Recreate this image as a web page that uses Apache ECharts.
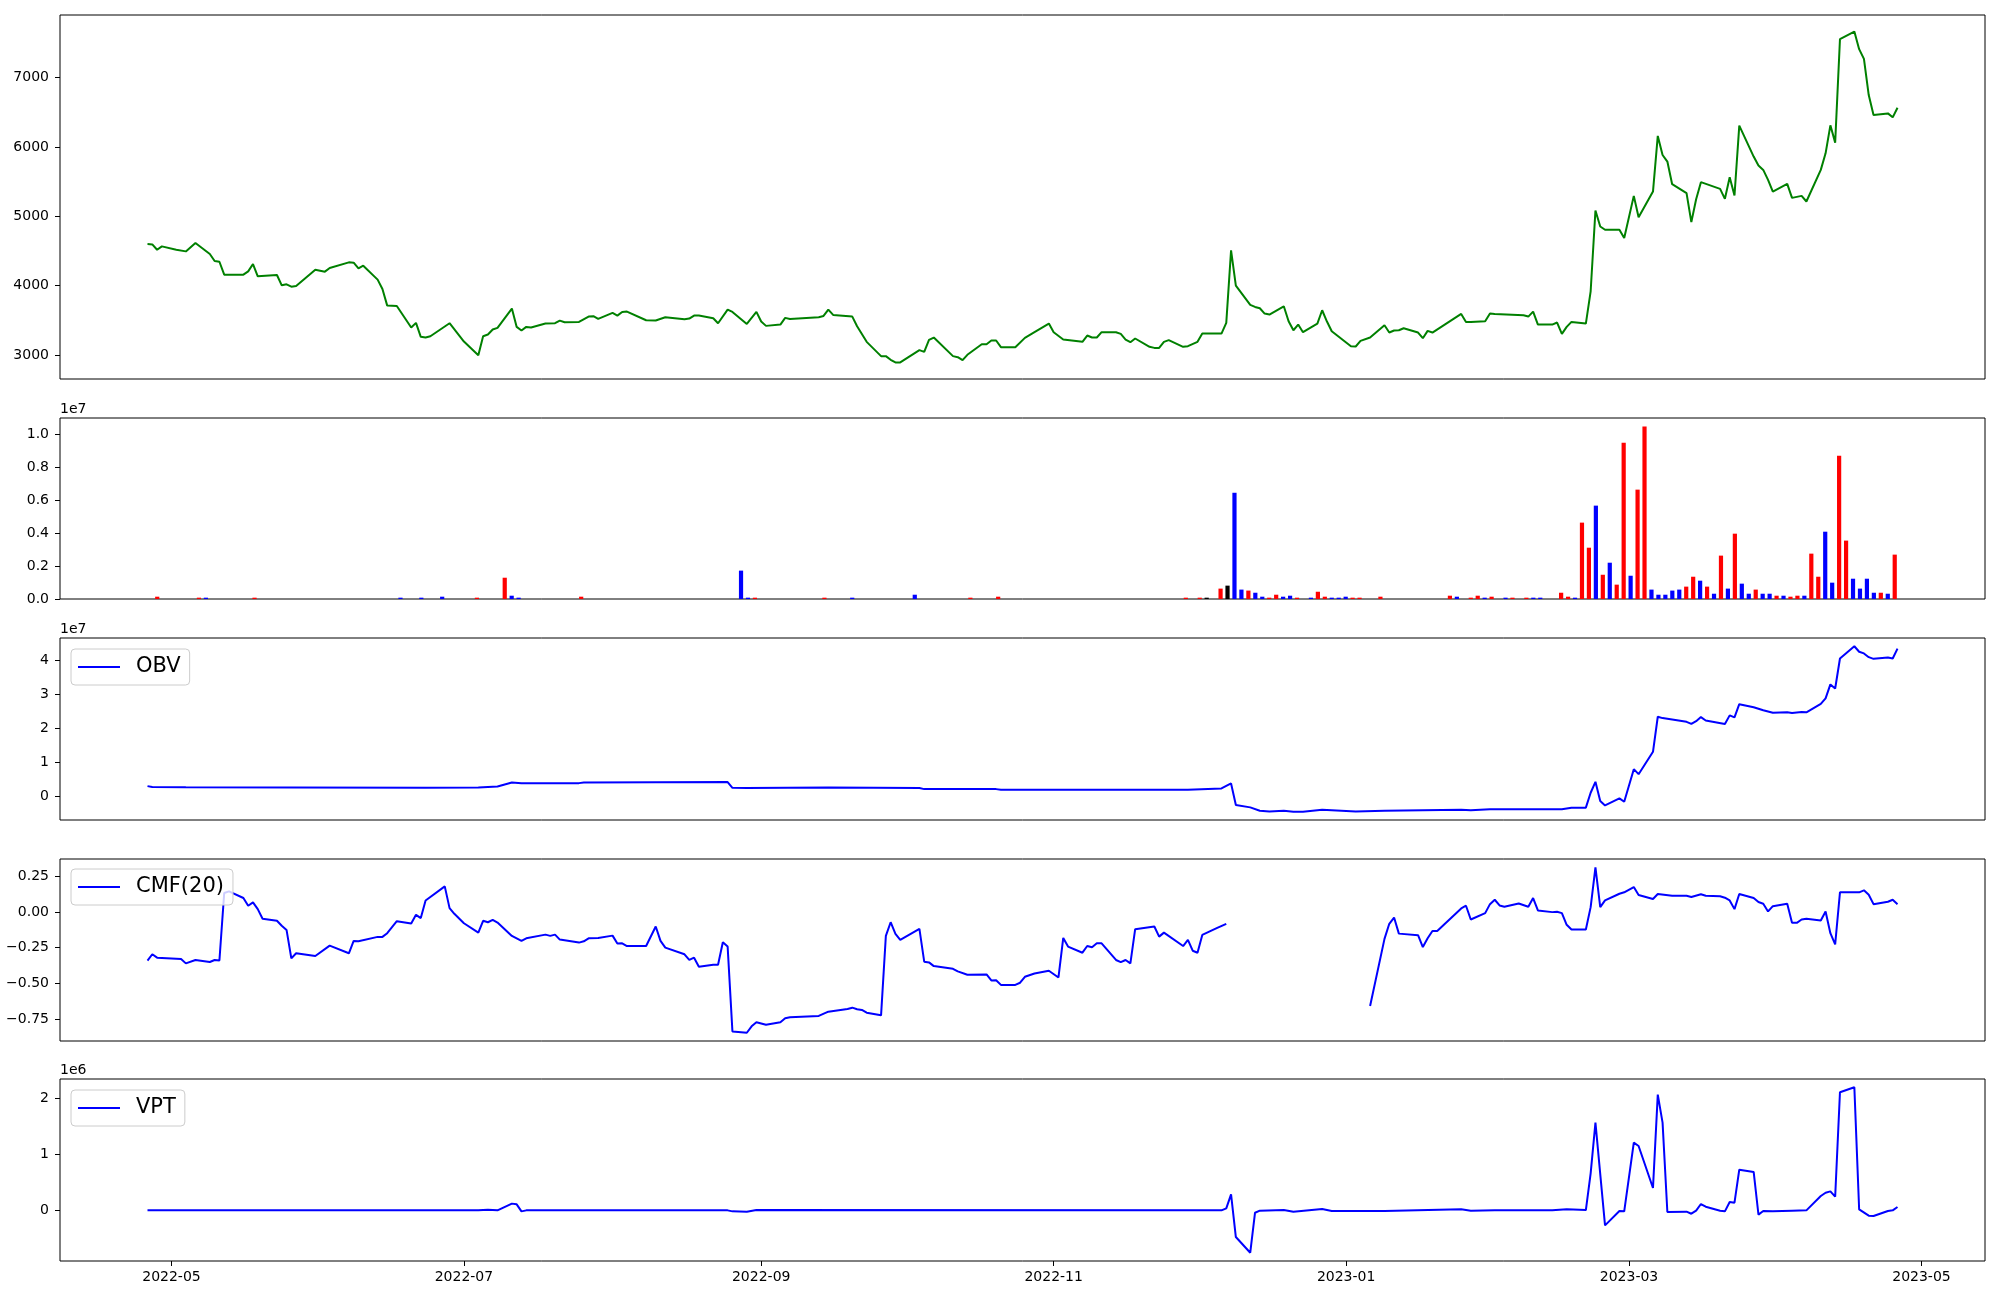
<!DOCTYPE html>
<html><head><meta charset="utf-8">
<script src="https://cdn.jsdelivr.net/npm/echarts@6/dist/echarts.min.js"></script>
<style>html,body{margin:0;padding:0;background:#fff}#chart{width:2000px;height:1300px}</style>
</head><body><div id="chart"></div>
<script>
// ---------------- DATA ----------------
const price = [
['2022-04-26',4600],['2022-04-27',4596],['2022-04-28',4519],['2022-04-29',4567],['2022-05-02',4519],['2022-05-04',4495],['2022-05-06',4615],['2022-05-09',4457],['2022-05-10',4356],['2022-05-11',4346],['2022-05-12',4160],['2022-05-16',4160],['2022-05-17',4207],['2022-05-18',4313],['2022-05-19',4136],['2022-05-23',4155],['2022-05-24',4006],['2022-05-25',4021],['2022-05-26',3987],['2022-05-27',3997],['2022-05-31',4231],['2022-06-02',4203],['2022-06-03',4255],['2022-06-07',4337],['2022-06-08',4332],['2022-06-09',4251],['2022-06-10',4289],['2022-06-13',4088],['2022-06-14',3953],['2022-06-15',3714],['2022-06-17',3709],['2022-06-20',3398],['2022-06-21',3465],['2022-06-22',3264],['2022-06-23',3254],['2022-06-24',3273],['2022-06-28',3460],['2022-07-01',3196],['2022-07-04',3000],['2022-07-05',3273],['2022-07-06',3297],['2022-07-07',3369],['2022-07-08',3393],['2022-07-11',3671],['2022-07-12',3407],['2022-07-13',3355],['2022-07-14',3407],['2022-07-15',3398],['2022-07-18',3455],['2022-07-20',3460],['2022-07-21',3498],['2022-07-22',3474],['2022-07-25',3479],['2022-07-27',3556],['2022-07-28',3561],['2022-07-29',3522],['2022-08-01',3609],['2022-08-02',3570],['2022-08-03',3623],['2022-08-04',3628],['2022-08-08',3503],['2022-08-10',3500],['2022-08-12',3546],['2022-08-16',3517],['2022-08-17',3527],['2022-08-18',3570],['2022-08-19',3570],['2022-08-22',3532],['2022-08-23',3460],['2022-08-25',3656],['2022-08-26',3623],['2022-08-29',3450],['2022-08-31',3623],['2022-09-01',3484],['2022-09-02',3422],['2022-09-05',3441],['2022-09-06',3537],['2022-09-07',3522],['2022-09-13',3546],['2022-09-14',3565],['2022-09-15',3656],['2022-09-16',3580],['2022-09-20',3556],['2022-09-21',3417],['2022-09-23',3192],['2022-09-26',2986],['2022-09-27',2986],['2022-09-28',2933],['2022-09-29',2895],['2022-09-30',2895],['2022-10-04',3072],['2022-10-05',3048],['2022-10-06',3220],['2022-10-07',3254],['2022-10-11',2986],['2022-10-12',2971],['2022-10-13',2928],['2022-10-14',3005],['2022-10-17',3158],['2022-10-18',3158],['2022-10-19',3211],['2022-10-20',3211],['2022-10-21',3115],['2022-10-24',3115],['2022-10-26',3249],['2022-10-28',3331],['2022-10-31',3455],['2022-11-01',3331],['2022-11-03',3225],['2022-11-07',3192],['2022-11-08',3283],['2022-11-09',3254],['2022-11-10',3254],['2022-11-11',3331],['2022-11-14',3331],['2022-11-15',3307],['2022-11-16',3225],['2022-11-17',3187],['2022-11-18',3240],['2022-11-21',3120],['2022-11-22',3105],['2022-11-23',3105],['2022-11-24',3192],['2022-11-25',3216],['2022-11-28',3120],['2022-11-29',3129],['2022-12-01',3192],['2022-12-02',3311],['2022-12-06',3311],['2022-12-07',3465],['2022-12-08',4509],['2022-12-09',4001],['2022-12-12',3724],['2022-12-13',3695],['2022-12-14',3676],['2022-12-15',3599],['2022-12-16',3585],['2022-12-19',3704],['2022-12-20',3489],['2022-12-21',3359],['2022-12-22',3441],['2022-12-23',3331],['2022-12-26',3455],['2022-12-27',3647],['2022-12-28',3484],['2022-12-29',3345],['2023-01-02',3129],['2023-01-03',3125],['2023-01-04',3206],['2023-01-06',3254],['2023-01-09',3431],['2023-01-10',3326],['2023-01-11',3355],['2023-01-12',3359],['2023-01-13',3388],['2023-01-16',3326],['2023-01-17',3244],['2023-01-18',3350],['2023-01-19',3326],['2023-01-25',3594],['2023-01-26',3479],['2023-01-27',3479],['2023-01-30',3489],['2023-01-31',3599],['2023-02-01',3594],['2023-02-07',3575],['2023-02-08',3556],['2023-02-09',3628],['2023-02-10',3441],['2023-02-13',3441],['2023-02-14',3470],['2023-02-15',3307],['2023-02-16',3407],['2023-02-17',3479],['2023-02-20',3455],['2023-02-21',3920],['2023-02-22',5084],['2023-02-23',4854],['2023-02-24',4806],['2023-02-27',4806],['2023-02-28',4687],['2023-03-02',5295],['2023-03-03',4988],['2023-03-06',5357],['2023-03-07',6158],['2023-03-08',5884],['2023-03-09',5789],['2023-03-10',5463],['2023-03-13',5334],['2023-03-14',4917],['2023-03-15',5247],['2023-03-16',5492],['2023-03-20',5396],['2023-03-21',5252],['2023-03-22',5564],['2023-03-23',5300],['2023-03-24',6306],['2023-03-27',5861],['2023-03-28',5731],['2023-03-29',5669],['2023-03-30',5525],['2023-03-31',5357],['2023-04-03',5468],['2023-04-04',5266],['2023-04-06',5295],['2023-04-07',5214],['2023-04-10',5669],['2023-04-11',5908],['2023-04-12',6311],['2023-04-13',6062],['2023-04-14',7552],['2023-04-17',7662],['2023-04-18',7408],['2023-04-19',7269],['2023-04-20',6747],['2023-04-21',6459],['2023-04-24',6483],['2023-04-25',6426],['2023-04-26',6565]
];

// volume bars: [trading-day index, volume, direction (1 up, -1 down, 0 flat)]
const tradingDays = 252;
const volume = [
[1,1.4e5,1],[7,0.8e5,1],[8,0.8e5,-1],[15,0.8e5,1],[36,0.8e5,-1],[39,0.8e5,-1],[42,1.4e5,-1],[47,0.8e5,1],[51,1.29e6,1],[52,2e5,-1],[53,0.8e5,-1],[62,1.4e5,1],
[85,1.72e6,-1],[86,0.8e5,-1],[87,0.8e5,1],[97,0.8e5,1],[101,0.8e5,-1],[110,2.6e5,-1],[118,0.8e5,1],[122,1.4e5,1],[149,0.8e5,1],[151,0.8e5,1],[152,0.8e5,0],
[154,6.3e5,1],[155,8.1e5,0],[156,6.44e6,-1],[157,5.7e5,-1],[158,5.1e5,1],[159,3.8e5,-1],[160,1.4e5,-1],[161,0.8e5,1],[162,2.6e5,1],[163,1.4e5,-1],[164,2e5,-1],[165,0.8e5,1],
[167,0.8e5,-1],[168,4.4e5,1],[169,1.4e5,1],[170,0.8e5,-1],[171,0.8e5,-1],[172,1.4e5,-1],[173,0.8e5,1],[174,0.8e5,1],[177,1.4e5,1],[187,2e5,1],[188,1.4e5,-1],[190,0.8e5,1],[191,2e5,1],[192,0.8e5,-1],[193,1.4e5,1],[195,0.8e5,-1],[196,0.8e5,1],[198,0.8e5,1],[199,0.8e5,-1],[200,0.8e5,-1],
[203,3.8e5,1],[204,1.4e5,1],[205,0.8e5,-1],[206,4.63e6,1],[207,3.11e6,1],[208,5.66e6,-1],[209,1.47e6,1],[210,2.2e6,-1],[211,8.7e5,1],[212,9.47e6,1],[213,1.41e6,-1],[214,6.63e6,1],[215,1.045e7,1],[216,5.7e5,-1],[217,2.6e5,-1],[218,2.6e5,-1],[219,5.1e5,-1],[220,5.7e5,-1],[221,7.5e5,1],[222,1.35e6,1],[223,1.11e6,-1],[224,7.5e5,1],[225,3.2e5,-1],[226,2.63e6,1],[227,6.3e5,-1],[228,3.96e6,1],[229,9.3e5,-1],[230,3.2e5,-1],[231,5.7e5,1],[232,3.2e5,-1],[233,3.2e5,-1],[234,2e5,1],[235,2e5,-1],[236,1.4e5,1],[237,2e5,1],[238,2e5,-1],[239,2.75e6,1],[240,1.35e6,1],[241,4.08e6,-1],[242,9.9e5,-1],[243,8.69e6,1],[244,3.54e6,1],[245,1.23e6,-1],[246,6.3e5,-1],[247,1.23e6,-1],[248,3.8e5,-1],[249,3.8e5,1],[250,3.2e5,-1],[251,2.69e6,1]
];

const obv = [
['2022-04-26',3.12e6],['2022-04-27',2.85e6],['2022-05-04',2.8e6],['2022-05-26',2.75e6],['2022-06-23',2.63e6],['2022-07-04',2.73e6],['2022-07-08',3.0e6],['2022-07-11',4.2e6],['2022-07-13',4.0e6],['2022-07-25',4.0e6],['2022-07-26',4.2e6],['2022-08-25',4.3e6],['2022-08-26',2.63e6],['2022-08-29',2.54e6],['2022-09-15',2.73e6],['2022-10-04',2.54e6],['2022-10-05',2.24e6],['2022-10-20',2.24e6],['2022-10-21',2.05e6],['2022-11-29',2.05e6],['2022-12-06',2.44e6],['2022-12-08',3.9e6],['2022-12-09',-2.44e6],['2022-12-12',-3.12e6],['2022-12-14',-4.1e6],['2022-12-16',-4.3e6],['2022-12-19',-4.1e6],['2022-12-21',-4.4e6],['2022-12-23',-4.4e6],['2022-12-27',-3.8e6],['2023-01-03',-4.3e6],['2023-01-09',-4.1e6],['2023-01-25',-3.8e6],['2023-01-27',-4.0e6],['2023-01-31',-3.7e6],['2023-02-15',-3.7e6],['2023-02-17',-3.2e6],['2023-02-20',-3.2e6],['2023-02-21',1.17e6],['2023-02-22',4.39e6],['2023-02-23',-1.27e6],['2023-02-24',-2.54e6],['2023-02-27',-0.49e6],['2023-02-28',-1.46e6],['2023-03-02',8.1e6],['2023-03-03',6.63e6],['2023-03-06',1.32e7],['2023-03-07',2.35e7],['2023-03-08',2.31e7],['2023-03-13',2.2e7],['2023-03-14',2.14e7],['2023-03-15',2.22e7],['2023-03-16',2.34e7],['2023-03-17',2.24e7],['2023-03-21',2.14e7],['2023-03-22',2.39e7],['2023-03-23',2.33e7],['2023-03-24',2.72e7],['2023-03-27',2.63e7],['2023-03-29',2.54e7],['2023-03-31',2.47e7],['2023-04-03',2.48e7],['2023-04-04',2.46e7],['2023-04-06',2.49e7],['2023-04-07',2.48e7],['2023-04-10',2.73e7],['2023-04-11',2.89e7],['2023-04-12',3.3e7],['2023-04-13',3.18e7],['2023-04-14',4.06e7],['2023-04-17',4.42e7],['2023-04-18',4.26e7],['2023-04-19',4.21e7],['2023-04-20',4.1e7],['2023-04-21',4.05e7],['2023-04-24',4.09e7],['2023-04-25',4.06e7],['2023-04-26',4.35e7]
];

const cmf = [
['2022-04-26',-0.341],['2022-04-27',-0.296],['2022-04-28',-0.32],['2022-05-03',-0.329],['2022-05-04',-0.36],['2022-05-06',-0.336],['2022-05-09',-0.35],['2022-05-10',-0.336],['2022-05-11',-0.339],['2022-05-12',0.134],['2022-05-13',0.146],['2022-05-16',0.099],['2022-05-17',0.045],['2022-05-18',0.068],['2022-05-19',0.021],['2022-05-20',-0.047],['2022-05-23',-0.061],['2022-05-24',-0.096],['2022-05-25',-0.125],['2022-05-26',-0.325],['2022-05-27',-0.289],['2022-05-31',-0.308],['2022-06-03',-0.235],['2022-06-07',-0.289],['2022-06-08',-0.202],['2022-06-09',-0.205],['2022-06-13',-0.174],['2022-06-14',-0.174],['2022-06-15',-0.148],['2022-06-17',-0.064],['2022-06-20',-0.08],['2022-06-21',-0.019],['2022-06-22',-0.042],['2022-06-23',0.082],['2022-06-27',0.181],['2022-06-28',0.028],['2022-06-29',-0.012],['2022-07-01',-0.078],['2022-07-04',-0.144],['2022-07-05',-0.061],['2022-07-06',-0.071],['2022-07-07',-0.054],['2022-07-08',-0.073],['2022-07-11',-0.167],['2022-07-13',-0.202],['2022-07-14',-0.184],['2022-07-18',-0.158],['2022-07-19',-0.167],['2022-07-20',-0.158],['2022-07-21',-0.193],['2022-07-25',-0.214],['2022-07-26',-0.205],['2022-07-27',-0.184],['2022-07-29',-0.181],['2022-08-01',-0.165],['2022-08-02',-0.221],['2022-08-03',-0.219],['2022-08-04',-0.238],['2022-08-08',-0.238],['2022-08-10',-0.101],['2022-08-11',-0.202],['2022-08-12',-0.249],['2022-08-16',-0.296],['2022-08-17',-0.336],['2022-08-18',-0.32],['2022-08-19',-0.384],['2022-08-22',-0.369],['2022-08-23',-0.369],['2022-08-24',-0.212],['2022-08-25',-0.242],['2022-08-26',-0.838],['2022-08-29',-0.847],['2022-08-30',-0.802],['2022-08-31',-0.774],['2022-09-02',-0.791],['2022-09-05',-0.774],['2022-09-06',-0.746],['2022-09-07',-0.739],['2022-09-13',-0.729],['2022-09-15',-0.699],['2022-09-19',-0.68],['2022-09-20',-0.671],['2022-09-21',-0.682],['2022-09-22',-0.687],['2022-09-23',-0.706],['2022-09-26',-0.725],['2022-09-27',-0.167],['2022-09-28',-0.071],['2022-09-29',-0.153],['2022-09-30',-0.195],['2022-10-04',-0.118],['2022-10-05',-0.348],['2022-10-06',-0.353],['2022-10-07',-0.379],['2022-10-11',-0.398],['2022-10-12',-0.416],['2022-10-14',-0.44],['2022-10-18',-0.438],['2022-10-19',-0.48],['2022-10-20',-0.478],['2022-10-21',-0.511],['2022-10-24',-0.511],['2022-10-25',-0.496],['2022-10-26',-0.454],['2022-10-28',-0.431],['2022-10-31',-0.412],['2022-11-02',-0.459],['2022-11-03',-0.181],['2022-11-04',-0.242],['2022-11-07',-0.285],['2022-11-08',-0.238],['2022-11-09',-0.247],['2022-11-10',-0.219],['2022-11-11',-0.219],['2022-11-14',-0.336],['2022-11-15',-0.351],['2022-11-16',-0.336],['2022-11-17',-0.36],['2022-11-18',-0.12],['2022-11-22',-0.101],['2022-11-23',-0.172],['2022-11-24',-0.144],['2022-11-28',-0.238],['2022-11-29',-0.195],['2022-11-30',-0.271],['2022-12-01',-0.285],['2022-12-02',-0.16],['2022-12-05',-0.113],['2022-12-07',-0.082],
['2022-12-20',null],
['2023-01-06',-0.659],['2023-01-09',-0.188],['2023-01-10',-0.082],['2023-01-11',-0.038],['2023-01-12',-0.151],['2023-01-16',-0.162],['2023-01-17',-0.245],['2023-01-18',-0.184],['2023-01-19',-0.132],['2023-01-20',-0.132],['2023-01-25',0.026],['2023-01-26',0.045],['2023-01-27',-0.052],['2023-01-30',-0.007],['2023-01-31',0.056],['2023-02-01',0.087],['2023-02-02',0.047],['2023-02-03',0.038],['2023-02-06',0.061],['2023-02-08',0.038],['2023-02-09',0.099],['2023-02-10',0.012],['2023-02-13',0.0],['2023-02-14',0.002],['2023-02-15',-0.007],['2023-02-16',-0.089],['2023-02-17',-0.122],['2023-02-20',-0.122],['2023-02-21',0.035],['2023-02-22',0.315],['2023-02-23',0.035],['2023-02-24',0.082],['2023-02-27',0.129],['2023-02-28',0.139],['2023-03-02',0.176],['2023-03-03',0.12],['2023-03-06',0.092],['2023-03-07',0.127],['2023-03-10',0.115],['2023-03-13',0.115],['2023-03-14',0.106],['2023-03-16',0.125],['2023-03-17',0.115],['2023-03-20',0.111],['2023-03-21',0.101],['2023-03-22',0.082],['2023-03-23',0.021],['2023-03-24',0.127],['2023-03-27',0.099],['2023-03-28',0.071],['2023-03-29',0.059],['2023-03-30',0.005],['2023-03-31',0.042],['2023-04-03',0.059],['2023-04-04',-0.075],['2023-04-05',-0.075],['2023-04-06',-0.052],['2023-04-07',-0.047],['2023-04-10',-0.059],['2023-04-11',0.005],['2023-04-12',-0.148],['2023-04-13',-0.226],['2023-04-14',0.139],['2023-04-17',0.139],['2023-04-18',0.139],['2023-04-19',0.153],['2023-04-20',0.122],['2023-04-21',0.056],['2023-04-24',0.073],['2023-04-25',0.087],['2023-04-26',0.056]
];

const vpt = [
['2022-04-26',0],['2022-07-04',0],['2022-07-06',1.2e4],['2022-07-08',0],['2022-07-11',1.2e5],['2022-07-12',1.07e5],['2022-07-13',-1.8e4],['2022-07-14',0],['2022-08-25',0],['2022-08-26',-1.8e4],['2022-08-29',-2.4e4],['2022-08-31',6e3],['2022-12-06',0],['2022-12-07',3.6e4],['2022-12-08',2.86e5],['2022-12-09',-4.76e5],['2022-12-12',-7.56e5],['2022-12-13',-4.2e4],['2022-12-14',-6e3],['2022-12-19',6e3],['2022-12-21',-2.4e4],['2022-12-27',2.4e4],['2022-12-29',-1.2e4],['2023-01-09',-1.2e4],['2023-01-25',1.8e4],['2023-01-27',-6e3],['2023-02-01',0],['2023-02-13',0],['2023-02-16',1.8e4],['2023-02-20',6e3],['2023-02-21',6.6e5],['2023-02-22',1.565e6],['2023-02-24',-2.68e5],['2023-02-27',-1.2e4],['2023-02-28',-1.8e4],['2023-03-02',1.208e6],['2023-03-03',1.149e6],['2023-03-06',3.99e5],['2023-03-07',2.065e6],['2023-03-08',1.565e6],['2023-03-09',-3e4],['2023-03-13',-2.4e4],['2023-03-14',-6e4],['2023-03-15',-6e3],['2023-03-16',1.13e5],['2023-03-17',6.5e4],['2023-03-20',-6e3],['2023-03-21',-1.8e4],['2023-03-22',1.49e5],['2023-03-23',1.37e5],['2023-03-24',7.26e5],['2023-03-27',6.85e5],['2023-03-28',-7.7e4],['2023-03-29',-1.2e4],['2023-03-31',-1.8e4],['2023-04-04',-6e3],['2023-04-07',0],['2023-04-10',2.56e5],['2023-04-11',3.15e5],['2023-04-12',3.39e5],['2023-04-13',2.44e5],['2023-04-14',2.107e6],['2023-04-17',2.196e6],['2023-04-18',1.8e4],['2023-04-20',-9.5e4],['2023-04-21',-1.01e5],['2023-04-24',-1.2e4],['2023-04-25',0],['2023-04-26',6e4]
];

const priceTicks = [3000, 4000, 5000, 6000, 7000];
const volumeTicks = [0.0, 0.2, 0.4, 0.6, 0.8, 1.0];   // x 1e7
const obvTicks = [0, 1, 2, 3, 4];                     // x 1e7
const cmfTicks = [-0.75, -0.50, -0.25, 0.00, 0.25];
const vptTicks = [0, 1, 2];                           // x 1e6
const xTickLabels = ['2022-05', '2022-07', '2022-09', '2022-11', '2023-01', '2023-03', '2023-05'];

// ---------------- HELPERS ----------------
function ts(s) { const p = s.split('-').map(Number); return new Date(p[0], p[1] - 1, p[2] || 1).getTime(); }
function toTime(arr) { return arr.map(p => [ts(p[0]), p[1] === null ? '-' : p[1]]); }
function padRange(vals, f) {
  const v = vals.filter(x => x !== null && !isNaN(x));
  const lo = Math.min(...v), hi = Math.max(...v), r = hi - lo;
  return [lo - f * r, hi + f * r];
}
const FONT = 'DejaVu Sans';
const uminus = s => s.replace('-', '\u2212');

const allDates = price.map(p => ts(p[0]));
const t0 = Math.min(...allDates), t1 = Math.max(...allDates), span = t1 - t0;
const xMin = t0 - 0.05 * span, xMax = t1 + 0.05 * span;

const vExt = (tradingDays - 1) + 0.8;
const vxMin = -0.4 - 0.05 * vExt, vxMax = tradingDays - 1 + 0.4 + 0.05 * vExt;

const priceR = padRange(price.map(p => p[1]), 0.05);
const volMax = Math.max(...volume.map(v => v[1])) * 1.05;
const obvR = padRange(obv.map(p => p[1]), 0.05);
const cmfR = padRange(cmf.map(p => p[1]), 0.05);
const vptR = padRange(vpt.map(p => p[1]), 0.05);

const grids = [
  { left: 60, right: 15, top: 15, height: 364 },
  { left: 60, right: 15, top: 418, height: 181 },
  { left: 60, right: 15, top: 638, height: 182 },
  { left: 60, right: 15, top: 859, height: 182 },
  { left: 60, right: 15, top: 1079, height: 182 }
].map(g => Object.assign({ show: true, borderColor: '#000', borderWidth: 1, backgroundColor: '#fff' }, g));

const labelStyle = { color: '#000', fontFamily: FONT, fontSize: 14 };
function yAx(idx, range, ticks, fmt, name) {
  const o = {
    type: 'value', gridIndex: idx, min: range[0], max: range[1],
    splitLine: { show: false },
    axisLine: { show: false, onZero: false },
    axisTick: { show: true, length: 5, inside: false, customValues: ticks, lineStyle: { color: '#000', width: 1 } },
    axisLabel: Object.assign({ show: true, margin: 11, customValues: ticks, formatter: fmt }, labelStyle)
  };
  if (name) {
    o.name = name; o.nameLocation = 'end'; o.nameGap = 2;
    o.nameTextStyle = { align: 'left', verticalAlign: 'bottom', color: '#000', fontFamily: FONT, fontSize: 14, padding: 0 };
  }
  return o;
}
function hiddenX(idx) {
  return { type: 'value', gridIndex: idx, min: xMin, max: xMax, show: false, axisLine: { onZero: false }, splitLine: { show: false } };
}

const xTickValues = xTickLabels.map(ts);
const legendCommon = {
  orient: 'horizontal', left: 71, itemWidth: 42, itemHeight: 14, padding: [5, 9, 5, 7],
  icon: 'path://M0,0H42V2H0Z',
  borderColor: '#cccccc', borderWidth: 1, borderRadius: 4, backgroundColor: 'rgba(255,255,255,0.8)',
  selectedMode: false,
  textStyle: { fontSize: 21, fontFamily: FONT, color: '#000', lineHeight: 26, padding: [0, 0, 0, 11] }
};

const option = {
  animation: false,
  backgroundColor: '#fff',
  grid: grids,
  legend: [
    Object.assign({ data: ['OBV'], top: 649 }, legendCommon),
    Object.assign({ data: ['CMF(20)'], top: 869 }, legendCommon),
    Object.assign({ data: ['VPT'], top: 1090 }, legendCommon)
  ],
  xAxis: [
    hiddenX(0),
    { type: 'value', gridIndex: 1, min: vxMin, max: vxMax, show: false, axisLine: { onZero: false }, splitLine: { show: false } },
    hiddenX(2),
    hiddenX(3),
    {
      type: 'value', gridIndex: 4, min: xMin, max: xMax,
      splitLine: { show: false },
      axisLine: { show: false, onZero: false },
      axisTick: { show: true, length: 5, customValues: xTickValues, lineStyle: { color: '#000', width: 1 } },
      axisLabel: Object.assign({
        show: true, margin: 9, customValues: xTickValues,
        formatter: v => { const i = xTickValues.indexOf(v); if (i >= 0) return xTickLabels[i]; const d = new Date(v); return d.getFullYear() + '-' + String(d.getMonth() + 1).padStart(2, '0'); }
      }, labelStyle)
    }
  ],
  yAxis: [
    yAx(0, priceR, priceTicks, v => String(Math.round(v))),
    yAx(1, [0, volMax], volumeTicks.map(v => v * 1e7), v => (Math.round(v / 1e6) / 10).toFixed(1), '1e7'),
    yAx(2, obvR, obvTicks.map(v => v * 1e7), v => String(Math.round(v / 1e7)), '1e7'),
    yAx(3, cmfR, cmfTicks, v => uminus(v.toFixed(2))),
    yAx(4, vptR, vptTicks.map(v => v * 1e6), v => String(Math.round(v / 1e6)), '1e6')
  ],
  series: [
    { name: 'Close', type: 'line', xAxisIndex: 0, yAxisIndex: 0, data: toTime(price), symbol: 'none',
      lineStyle: { color: '#008000', width: 2 }, itemStyle: { color: '#008000' } },
    { name: 'Volume', type: 'bar', xAxisIndex: 1, yAxisIndex: 1, data: volume, encode: { x: 0, y: 1 },
      barWidth: 4.2,
      itemStyle: { color: p => p.value[2] > 0 ? '#ff0000' : (p.value[2] < 0 ? '#0000ff' : '#000000') } },
    { name: 'OBV', type: 'line', xAxisIndex: 2, yAxisIndex: 2, data: toTime(obv), symbol: 'none',
      lineStyle: { color: '#0000ff', width: 2 }, itemStyle: { color: '#0000ff' } },
    { name: 'CMF(20)', type: 'line', xAxisIndex: 3, yAxisIndex: 3, data: toTime(cmf), symbol: 'none', connectNulls: false,
      lineStyle: { color: '#0000ff', width: 2 }, itemStyle: { color: '#0000ff' } },
    { name: 'VPT', type: 'line', xAxisIndex: 4, yAxisIndex: 4, data: toTime(vpt), symbol: 'none',
      lineStyle: { color: '#0000ff', width: 2 }, itemStyle: { color: '#0000ff' } }
  ]
};

const chart = echarts.init(document.getElementById('chart'), null, { renderer: 'canvas' });
chart.setOption(option);
</script>
</body></html>
